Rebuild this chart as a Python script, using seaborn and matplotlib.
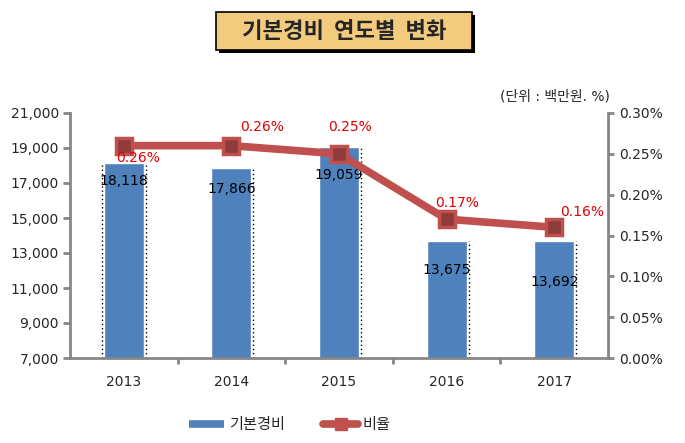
import numpy as np
import pandas as pd
import matplotlib.pyplot as plt
import seaborn as sns
from matplotlib.patches import Rectangle
from matplotlib.lines import Line2D
from matplotlib.ticker import FuncFormatter, FixedLocator

years = ["2013", "2014", "2015", "2016", "2017"]
cost = [18118, 17866, 19059, 13675, 13692]          # 기본경비 (백만원)
ratio = [0.26, 0.26, 0.25, 0.17, 0.16]              # 비율 (%)

# label offsets in pixels (style only)
cost_off = [-18, -21, -28, -29, -41]
ratio_off = [(14, -12), (31, 19), (11, 27), (10, 16), (28, 15)]

df = pd.DataFrame({"year": years, "cost": cost, "ratio": ratio})

sns.set_style("white")
plt.rcParams["font.family"] = ["DejaVu Sans", "Noto Sans CJK KR"]

BLUE = "#4F81BD"
RED = "#C0504D"
GRAY = "#868686"

fig = plt.figure(figsize=(6.85, 4.43), dpi=100)
ax = fig.add_axes([70 / 685, 85 / 443, 538 / 685, 245 / 443])

sns.barplot(data=df, x="year", y="cost", color=BLUE, width=0.37,
            saturation=1, ax=ax)
ax.set_ylim(7000, 21000)
ax.set_yticks(np.arange(7000, 21001, 2000))
ax.yaxis.set_major_formatter(FuncFormatter(lambda v, p: f"{int(v):,}"))
ax.set_xlabel("")
ax.set_ylabel("")

# dotted shadow edges next to bars
for i, p in enumerate(ax.patches):
    x1 = p.get_x() + p.get_width() + 0.02
    ax.plot([x1, x1], [7000, p.get_height()], ls=(0, (1, 2)), color="black",
            lw=1, zorder=1)
    if i == 0:
        x0 = p.get_x() - 0.02
        ax.plot([x0, x0], [7000, p.get_height()], ls=(0, (1, 2)),
                color="black", lw=1, zorder=1)

for i, v in enumerate(cost):
    ax.annotate(f"{v:,}", (i, v), xytext=(0, cost_off[i]),
                textcoords="offset pixels", ha="center", va="center",
                fontsize=10, color="black", zorder=5)

ax2 = ax.twinx()
sns.lineplot(data=df, x="year", y="ratio", color=RED, lw=5.5, marker="s",
             markersize=11, markerfacecolor="#8E3B39", markeredgecolor=RED,
             markeredgewidth=2.5, sort=False, ax=ax2, zorder=4)
ax2.set_ylim(0, 0.30)
ax2.set_yticks(np.arange(0, 0.301, 0.05))
ax2.yaxis.set_major_formatter(FuncFormatter(lambda v, p: f"{v:.2f}%"))
ax2.set_ylabel("")
for i, v in enumerate(ratio):
    ax2.annotate(f"{v:.2f}%", (i, v), xytext=ratio_off[i],
                 textcoords="offset pixels", ha="center", va="center",
                 fontsize=10, color="#E00000", zorder=6)

ax.set_xlim(-0.5, len(years) - 0.5)
for a in (ax, ax2):
    for s in a.spines.values():
        s.set_color(GRAY)
        s.set_linewidth(2)
    a.spines["top"].set_visible(False)
ax.spines["right"].set_visible(False)
ax2.spines["left"].set_visible(False)
ax2.spines["bottom"].set_visible(False)

ax.tick_params(axis="y", direction="out", length=5, width=2, color=GRAY,
               labelsize=10, pad=3, left=True)
ax2.tick_params(axis="y", direction="out", length=4, width=2, color=GRAY,
                labelsize=10, pad=4, right=True)
ax.tick_params(axis="x", which="major", length=0, labelsize=10, pad=12)
ax.xaxis.set_minor_locator(FixedLocator(np.arange(0.5, len(years) - 1, 1)))
ax.tick_params(axis="x", which="minor", direction="out", length=4, width=2,
               color=GRAY, bottom=True)

# title box
fig.patches.append(Rectangle((219 / 685, 1 - 53 / 443), 256 / 685, 38 / 443,
                             transform=fig.transFigure, facecolor="black",
                             edgecolor="none", zorder=1))
fig.patches.append(Rectangle((216 / 685, 1 - 50 / 443), 256 / 685, 38 / 443,
                             transform=fig.transFigure, facecolor="#F2CB7E",
                             edgecolor="black", lw=1.2, zorder=2))
fig.text(344 / 685, 1 - 31 / 443, "기본경비  연도별  변화", ha="center",
         va="center", fontsize=16, fontweight="bold", zorder=3,
         family=["Noto Sans CJK KR"])

fig.text(610 / 685, 1 - 97 / 443, "(단위 : 백만원. %)", ha="right",
         va="center", fontsize=10)

handles = [
    Line2D([0], [0], color=BLUE, lw=5.5, solid_capstyle="butt"),
    Line2D([0], [0], color=RED, lw=5.5, marker="s", markersize=9,
           markerfacecolor=RED, markeredgecolor=RED),
]
fig.legend(handles, ["기본경비", "비율"], loc="center",
           bbox_to_anchor=(290 / 685, 1 - 425 / 443), ncol=2, frameon=False,
           fontsize=11, handlelength=2.3, handletextpad=0.3, columnspacing=2.5)

fig.savefig("out.png", dpi=100)
